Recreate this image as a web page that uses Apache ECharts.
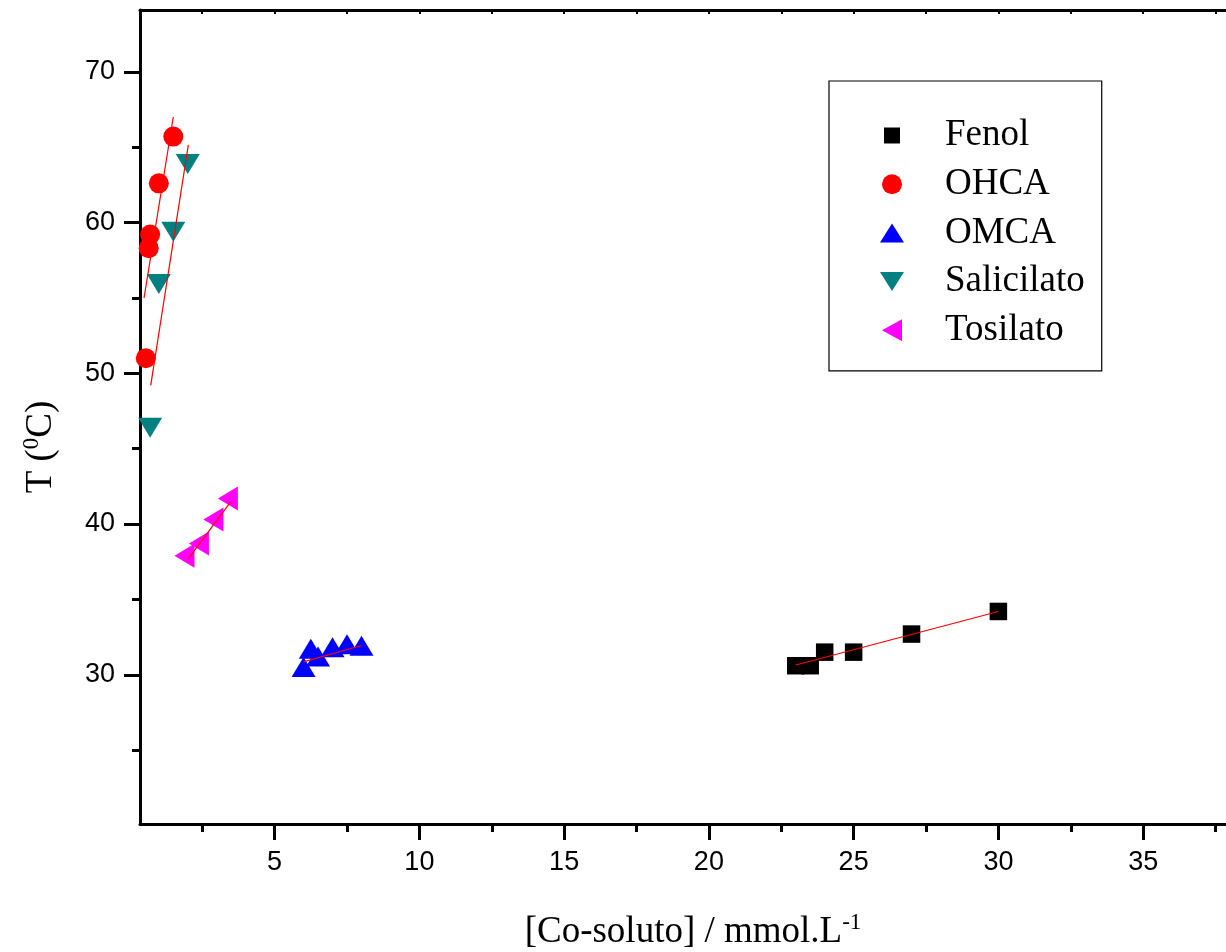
<!DOCTYPE html>
<html>
<head>
<meta charset="utf-8">
<script src="https://cdn.jsdelivr.net/npm/echarts@6/dist/echarts.min.js"></script>
<style>
  html, body { margin: 0; background: #fff; }
  #chart { width: 1226px; height: 952px; }
</style>
</head>
<body>
<div id="chart"></div>
<script>
// data
const fenolX = [23, 23.5, 24, 25, 27, 30]
const fenolY = [30.6, 30.6, 31.5, 31.5, 32.7, 34.2]
const ohcaX = [0.55, 0.65, 0.7, 1.0, 1.5]
const ohcaY = [51.0, 58.3, 59.2, 62.6, 65.7]
const omcaX = [6, 6.25, 6.5, 7, 7.5, 8]
const omcaY = [30.3, 31.5, 31.0, 31.6, 31.8, 31.7]
const salicX = [0.7, 1.0, 1.5, 2.0]
const salicY = [46.6, 56.15, 59.6, 64.1]
const tosilX = [2.0, 2.5, 3.0, 3.5]
const tosilY = [37.9, 38.7, 40.3, 41.7]

// linear fits (end points)
const fenolFit = [[23, 30.65], [30, 34.2]]
const ohcaFit = [[0.49, 55.0], [1.5, 67.0]]
const omcaFit = [[6, 30.86], [8, 31.94]]
const salicFit = [[0.72, 49.2], [2.02, 65.15]]
const tosilFit = [[2.02, 37.7], [3.5, 41.52]]

const xMajor = [5, 10, 15, 20, 25, 30, 35]
const xMinor = [2.5, 7.5, 12.5, 17.5, 22.5, 27.5, 32.5, 37.5]
const xTop = [2.5, 5, 7.5, 10, 12.5, 15, 17.5, 20, 22.5, 25, 27.5, 30, 32.5, 35, 37.5]
const yMajor = [30, 40, 50, 60, 70]
const yMinor = [25, 35, 45, 55, 65]

const zip = (xs, ys) => xs.map((x, i) => [x, ys[i]])

const serif = '"Liberation Serif", "Times New Roman", serif'
const sans = '"Liberation Sans", Arial, sans-serif'
const X_MIN = 0.35, X_MAX = 38, Y_MIN = 20.1, Y_MAX = 74.1

function fitLine (data) {
  return {
    type: 'line',
    data: data,
    showSymbol: false,
    silent: true,
    z: 5,
    lineStyle: { color: '#ff0000', width: 1.2 },
    animation: false
  }
}

const scatterBase = { type: 'scatter', animation: false, z: 3 }

const option = {
  backgroundColor: '#fff',
  animation: false,
  grid: { left: 140, top: 10, right: -4, bottom: 128, outerBoundsMode: 'none', containLabel: false },
  legend: {
    // legend icons drawn like the plot symbols (the extra moveTo points only pad the box)
    data: [
      { name: 'Fenol', icon: 'path://M0,0M3,3L19,3L19,19L3,19ZM22,22' },
      { name: 'OHCA', icon: 'path://M0,0M1,11A10,10,0,1,1,21,11A10,10,0,1,1,1,11ZM22,22' },
      { name: 'OMCA', icon: 'path://M12,1L24,20L0,20Z' },
      { name: 'Salicilato', icon: 'path://M0,2L24,2L12,21Z' },
      { name: 'Tosilato', icon: 'path://M0,11L20,0L20,22Z' }
    ],
    orient: 'vertical',
    left: 829,
    top: 81,
    padding: [36, 17, 22, 51],
    itemWidth: 24,
    itemHeight: 22,
    itemGap: 11.7,
    borderColor: '#000',
    borderWidth: 1.2,
    selectedMode: false,
    textStyle: { fontFamily: serif, fontSize: 37, color: '#000', lineHeight: 36, padding: [0, 0, 0, 36] }
  },
  xAxis: [
    {
      type: 'value', position: 'bottom', min: X_MIN, max: X_MAX,
      splitLine: { show: false },
      axisLine: { lineStyle: { color: '#000', width: 3 } },
      axisTick: { customValues: xMajor, length: 16, lineStyle: { width: 3, color: '#000' } },
      axisLabel: { customValues: xMajor, fontFamily: sans, fontSize: 27, color: '#000', margin: 25 },
      name: '[Co-soluto] / mmol.L{sup|-1}',
      nameLocation: 'middle',
      nameGap: 87,
      nameTextStyle: {
        fontFamily: serif, fontSize: 37, color: '#000', lineHeight: 42, padding: [0, 0, 0, 16],
        rich: { sup: { fontFamily: serif, fontSize: 23, verticalAlign: 'top', lineHeight: 42, padding: [0, 0, 15, 0] } }
      }
    },
    {
      type: 'value', position: 'bottom', min: X_MIN, max: X_MAX,
      splitLine: { show: false },
      axisLine: { show: false },
      axisTick: { customValues: xMinor, length: 8, lineStyle: { width: 3, color: '#000' } },
      axisLabel: { show: false }
    },
    {
      type: 'value', position: 'top', min: X_MIN, max: X_MAX,
      splitLine: { show: false },
      axisLine: { lineStyle: { color: '#000', width: 3 } },
      axisTick: { inside: true, customValues: xTop, length: 4, lineStyle: { width: 2, color: '#000' } },
      axisLabel: { show: false }
    }
  ],
  yAxis: [
    {
      type: 'value', position: 'left', min: Y_MIN, max: Y_MAX,
      splitLine: { show: false },
      axisLine: { lineStyle: { color: '#000', width: 3 } },
      axisTick: { customValues: yMajor, length: 16, lineStyle: { width: 3, color: '#000' } },
      axisLabel: { customValues: yMajor, fontFamily: sans, fontSize: 27, color: '#000', margin: 25 },
      name: 'T ({sup|0}C)',
      nameLocation: 'middle',
      nameRotate: 90,
      nameGap: 78,
      nameTextStyle: {
        fontFamily: serif, fontSize: 37, color: '#000', lineHeight: 42, padding: [0, 60, 0, 0],
        rich: { sup: { fontFamily: serif, fontSize: 23, verticalAlign: 'top', lineHeight: 42, padding: [0, 0, 15, 0] } }
      }
    },
    {
      type: 'value', position: 'left', min: Y_MIN, max: Y_MAX,
      splitLine: { show: false },
      axisLine: { show: false },
      axisTick: { customValues: yMinor, length: 8, lineStyle: { width: 3, color: '#000' } },
      axisLabel: { show: false }
    }
  ],
  series: [
    Object.assign({}, scatterBase, {
      name: 'Fenol', data: zip(fenolX, fenolY),
      symbol: 'rect', symbolSize: 17.5,
      itemStyle: { color: '#000000', opacity: 1 }
    }),
    Object.assign({}, scatterBase, {
      name: 'OHCA', data: zip(ohcaX, ohcaY),
      symbol: 'circle', symbolSize: 20,
      itemStyle: { color: '#ff0000', opacity: 1 }
    }),
    Object.assign({}, scatterBase, {
      name: 'OMCA', data: zip(omcaX, omcaY),
      symbol: 'triangle', symbolSize: [24, 20], symbolOffset: [0, -3.3],
      itemStyle: { color: '#0000ff', opacity: 1 }
    }),
    Object.assign({}, scatterBase, {
      name: 'Salicilato', data: zip(salicX, salicY),
      symbol: 'triangle', symbolSize: [24, 20], symbolRotate: 180, symbolOffset: [0, 3.3],
      itemStyle: { color: '#008080', opacity: 1 }
    }),
    Object.assign({}, scatterBase, {
      name: 'Tosilato', data: zip(tosilX, tosilY),
      symbol: 'triangle', symbolSize: [24, 20], symbolRotate: 90, symbolOffset: [-3.3, 0],
      itemStyle: { color: '#ff00ff', opacity: 1 }
    }),
    fitLine(fenolFit),
    fitLine(ohcaFit),
    fitLine(omcaFit),
    fitLine(salicFit),
    fitLine(tosilFit)
  ]
}

const chart = echarts.init(document.getElementById('chart'), null, { renderer: 'canvas' })
chart.setOption(option)
</script>
</body>
</html>
